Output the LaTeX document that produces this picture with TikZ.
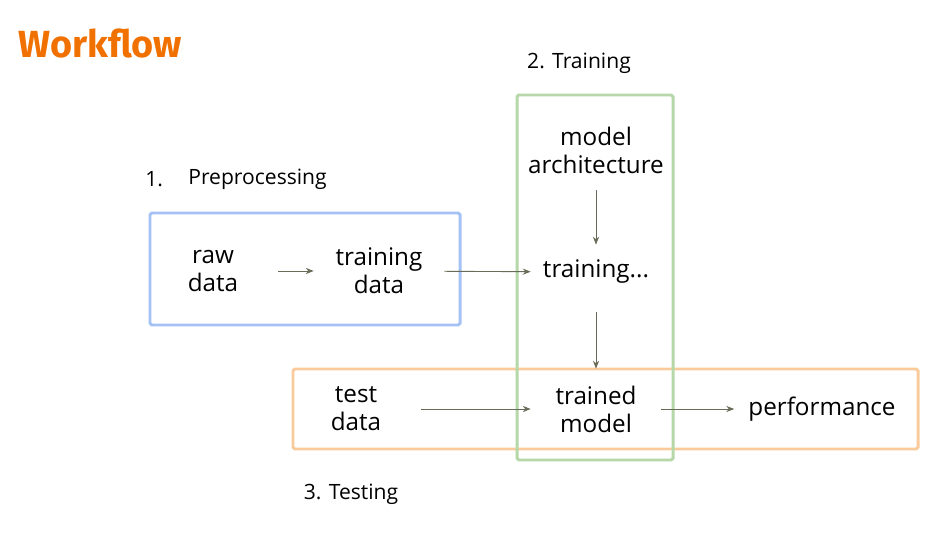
\documentclass[tikz,border=0pt]{standalone}
\usepackage{fontspec}
\setmainfont{Open Sans}
\newfontfamily\titlefont{Fira Sans}
\usetikzlibrary{arrows.meta,positioning}
\definecolor{titleorange}{HTML}{F07000}
\definecolor{prepblue}{HTML}{A4C2F4}
\definecolor{traingreen}{HTML}{B6D7A8}
\definecolor{testorange}{HTML}{F9CB9C}
\definecolor{flowgray}{HTML}{6A6A58}
\tikzset{
  stage/.style={align=center, font=\fontsize{13.8}{16}\selectfont, minimum width=2.6cm, minimum height=1.6cm, inner sep=2pt},
  phase/.style={font=\fontsize{12}{14}\selectfont, inner sep=0pt},
  group/.style={line width=1.7pt, rounded corners=1pt},
  flow/.style={-{Stealth[length=4.5pt,width=3.5pt]}, draw=flowgray, line width=0.5pt},
}

\begin{document}
\begin{tikzpicture}[x=0.02cm,y=-0.02cm]
    % Define the canvas
    \useasboundingbox (0,0) rectangle (949,536);

    % Title
    \node[anchor=west, inner sep=0pt, text=titleorange, font=\titlefont\bfseries\fontsize{21.5}{24}\selectfont] (title) at (18,43) {Workflow};

    % Draw the three phase boxes
    \draw[group, draw=prepblue] (150,213) rectangle (460,325);
    \draw[group, draw=testorange] (293,369) rectangle (918,449);
    \draw[group, draw=traingreen] (517,95) rectangle (673,460);

    % Phase labels
    \node[phase, anchor=west] (one) at (145,179) {1.};
    \node[phase, anchor=west] (prep) at (188,179) {Preprocessing};
    \node[phase] (two) at (579,63) {2. Training};
    \node[phase] (three) at (351,494) {3. Testing};

    % Steps of the workflow
    \node[stage] (raw) at (213,271) {raw\\data};
    \node[stage] (traindata) at (379,271) {training\\data};
    \node[stage] (arch) at (596,150) {model\\architecture};
    \node[stage] (training) at (596,272) {training...};
    \node[stage] (testdata) at (356,409) {test\\data};
    \node[stage] (trained) at (596,409) {trained\\model};
    \node[stage, minimum width=3.5cm] (perf) at (822,409) {performance};

    % Connect the steps
    \draw[flow] (raw) -- (traindata);
    \draw[flow] (traindata) -- (training);
    \draw[flow, shorten >=-0.26cm] (arch) -- (training);
    \draw[flow] (training) -- (trained);
    \draw[flow] (testdata) -- (trained);
    \draw[flow] (trained) -- (perf);
  \end{tikzpicture}
\end{document}
